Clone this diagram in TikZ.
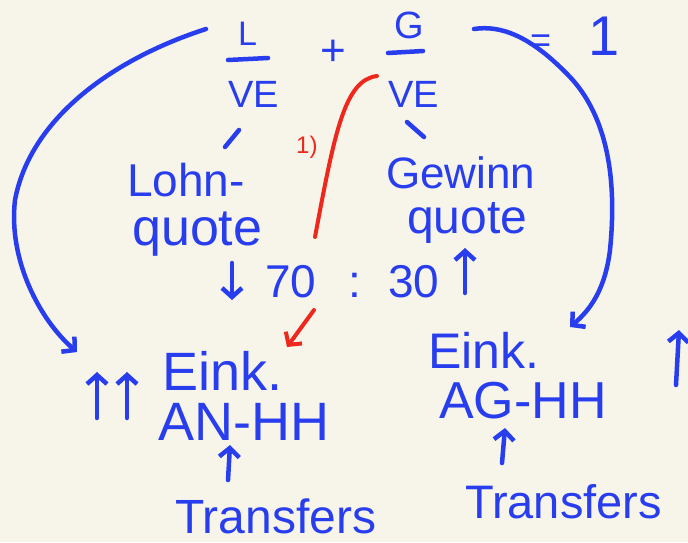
\documentclass[tikz,border=0pt]{standalone}
\usepackage{fontspec}
\setmainfont{Liberation Sans}
\usetikzlibrary{arrows.meta}
\definecolor{ink}{RGB}{40,62,238}
\definecolor{redink}{RGB}{238,40,28}
\definecolor{paper}{RGB}{247,244,234}
\begin{document}
\begin{tikzpicture}[x=1pt,y=-1pt,
  pen/.style={draw=ink,line width=4.5pt,line cap=round,line join=round},
  rpen/.style={draw=redink,line width=4pt,line cap=round,line join=round},
  tip/.style={-{Straight Barb[length=9pt,width=20pt]}},
  txt/.style={text=ink,inner sep=0pt,anchor=base west},
  fs/.style={font=\fontsize{#1}{#1}\selectfont}]
\fill[paper] (0,0) rectangle (688,542);
\useasboundingbox (0,0) rectangle (688,542);
% top formula
\node[txt,fs=34] (L) at (238,45) {L};
\node[txt,fs=38] (VEl) at (228,107) {VE};
\node[txt,fs=44] (plus) at (320,65) {+};
\node[txt,fs=38] (G) at (394,38) {G};
\node[txt,fs=38] (VEr) at (388,107) {VE};
\node[txt,fs=36] (eq) at (530,52) {=};
\node[txt,fs=56] (one) at (588,55) {1};
\draw[pen] (228,60) -- (268,58);
\draw[pen] (388,53) -- (423,51);
% ticks
\draw[pen] (239,130) -- (225,147);
\draw[pen] (407,122) -- (424,137);
% quotes
\node[txt,fs=46] (lohn) at (127,196) {Lohn-};
\node[txt,fs=52] (lquote) at (132,245) {quote};
\node[txt,fs=44] (gew) at (386,188) {Gewinn};
\node[txt,fs=48] (gquote) at (407,233) {quote};
% ratio
\node[txt,fs=46] (seventy) at (265,297) {70};
\node[txt,fs=46] (colon) at (348,297) {:};
\node[txt,fs=46] (thirty) at (388,297) {30};
\coordinate (d1) at (232,263); \coordinate (d2) at (232,300);
\coordinate (u1) at (465,293); \coordinate (u2) at (465,248);
\draw[pen,tip] (d1) -- (d2);
\draw[pen,tip] (u1) -- (u2);
% red
\coordinate (r1) at (377,76); \coordinate (r2) at (315,237);
\draw[rpen] (r1) .. controls (345,80) and (335,130) .. (r2);
\node[text=redink,inner sep=0pt,anchor=base west,fs=24] (rone) at (296,153) {1)};
\coordinate (ra1) at (314,310); \coordinate (ra2) at (287,347);
\draw[rpen,-{Straight Barb[length=9pt,width=20pt]}] (ra1) -- (ra2);
% bottom left
\coordinate (a1) at (97,418); \coordinate (a2) at (97,372);
\coordinate (b1) at (127,418); \coordinate (b2) at (127,372);
\draw[pen,tip] (a1) -- (a2);
\draw[pen,tip] (b1) -- (b2);
\node[txt,fs=54] (einkL) at (162,390) {Eink.};
\node[txt,fs=54] (anhh) at (158,440) {AN-HH};
\node[txt,fs=48] (transL) at (175,533) {Transfers};
\coordinate (c1) at (228,480); \coordinate (c2) at (230,445);
\draw[pen,tip] (c1) -- (c2);
% bottom right
\node[txt,fs=50] (einkR) at (428,368) {Eink.};
\node[txt,fs=52] (aghh) at (439,418) {AG-HH};
\node[txt,fs=47] (transR) at (465,518) {Transfers};
\coordinate (e1) at (502,463); \coordinate (e2) at (505,428);
\draw[pen,tip] (e1) -- (e2);
\coordinate (f1) at (676,385); \coordinate (f2) at (679,330);
\draw[pen,tip] (f1) -- (f2);
% big curves
\coordinate (lc1) at (206,29); \coordinate (lc2) at (77,352);
\draw[pen,tip] (lc1) .. controls (110,60) and (30,120) .. (15,200)
  .. controls (8,260) and (40,320) .. (lc2);
\coordinate (rc1) at (474,29); \coordinate (rc2) at (570,327);
\draw[pen,tip] (rc1) .. controls (500,25) and (530,35) .. (570,77)
  .. controls (615,125) and (615,200) .. (610,250)
  .. controls (605,290) and (590,310) .. (rc2);
\end{tikzpicture}
\end{document}
